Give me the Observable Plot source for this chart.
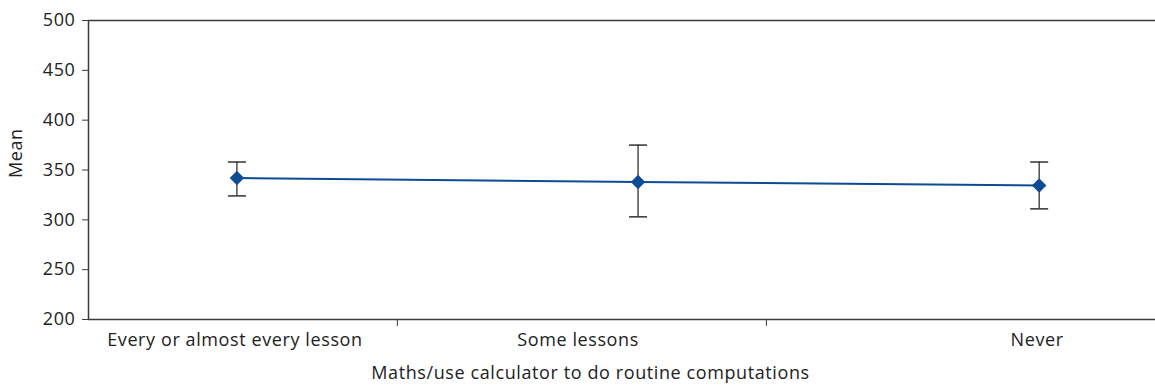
<!DOCTYPE html>
<html>
<head>
<meta charset="utf-8">
<script src="https://cdn.jsdelivr.net/npm/d3@7"></script>
<script src="https://cdn.jsdelivr.net/npm/@observablehq/plot@0.6"></script>
<style>
  body { margin: 0; background: #fff; }
</style>
</head>
<body>
<div id="chart"></div>
<script>
// Mean score by how often the calculator is used for routine computations
const categories = ["Every or almost every lesson", "Some lessons", "Never"];
const means = [342, 338, 334.5];
const lower = [324, 303, 311];
const upper = [358, 375, 358];
const yTicks = [200, 250, 300, 350, 400, 450, 500];
const dividers = [0.4, 1.32];
const xTitle = "Maths/use calculator to do routine computations";
const yTitle = "Mean";

const rows = categories.map((category, i) => ({
  i, category, mean: means[i], lower: lower[i], upper: upper[i]
}));

const blue = "#0b4c94";
const axisColor = "#3c3c3c";
const xDomain = [-0.37, 2.29];
const yDomain = [200, 500];

// horizontal cap for the error bars
const capSymbol = {
  draw(context, size) {
    const r = Math.sqrt(size / Math.PI);
    context.moveTo(-r, 0);
    context.lineTo(r, 0);
  }
};

// category labels hang below the axis; the middle one sits left of its point
const labelStyle = { x: "i", text: "category", frameAnchor: "bottom", lineAnchor: "top", dy: 14 };

const chart = Plot.plot({
  width: 1155,
  height: 385,
  marginLeft: 88,
  marginRight: 0,
  marginTop: 20,
  marginBottom: 66,
  style: {
    fontFamily: "'Open Sans', sans-serif",
    fontSize: "18px",
    letterSpacing: "0.6px",
    color: "#222",
    background: "#fff"
  },
  x: { type: "linear", domain: xDomain, axis: null },
  y: { domain: yDomain, axis: null },
  marks: [
    Plot.axisY({ ticks: yTicks, tickSize: 6, tickPadding: 7, stroke: axisColor, label: null }),
    Plot.axisX({ ticks: dividers, tickSize: 7, tickFormat: () => "", stroke: axisColor, label: null }),
    Plot.text(rows.filter((d) => d.i !== 1), { ...labelStyle, dx: -2 }),
    Plot.text(rows.filter((d) => d.i === 1), { ...labelStyle, dx: -60 }),
    Plot.ruleY(yDomain, { stroke: axisColor, strokeWidth: 1.5 }),
    Plot.ruleX([xDomain[0]], { stroke: axisColor, strokeWidth: 1.5 }),
    Plot.ruleX(rows, { x: "i", y1: "lower", y2: "upper", stroke: "#222", strokeWidth: 1.2 }),
    Plot.dot(rows, { x: "i", y: "lower", symbol: capSymbol, r: 9, stroke: "#333", strokeWidth: 1.5 }),
    Plot.dot(rows, { x: "i", y: "upper", symbol: capSymbol, r: 9, stroke: "#333", strokeWidth: 1.5 }),
    Plot.line(rows, { x: "i", y: "mean", stroke: blue, strokeWidth: 2 }),
    Plot.dot(rows, { x: "i", y: "mean", symbol: "diamond2", r: 6.5, fill: blue, stroke: null }),
    Plot.text([xTitle], { text: (d) => d, frameAnchor: "bottom", dy: 54, dx: -31.5, lineAnchor: "middle" }),
    Plot.text([yTitle], { text: (d) => d, frameAnchor: "left", rotate: -90, dx: -72, dy: 8, lineAnchor: "middle" })
  ]
});

document.getElementById("chart").append(chart);
</script>
</body>
</html>
